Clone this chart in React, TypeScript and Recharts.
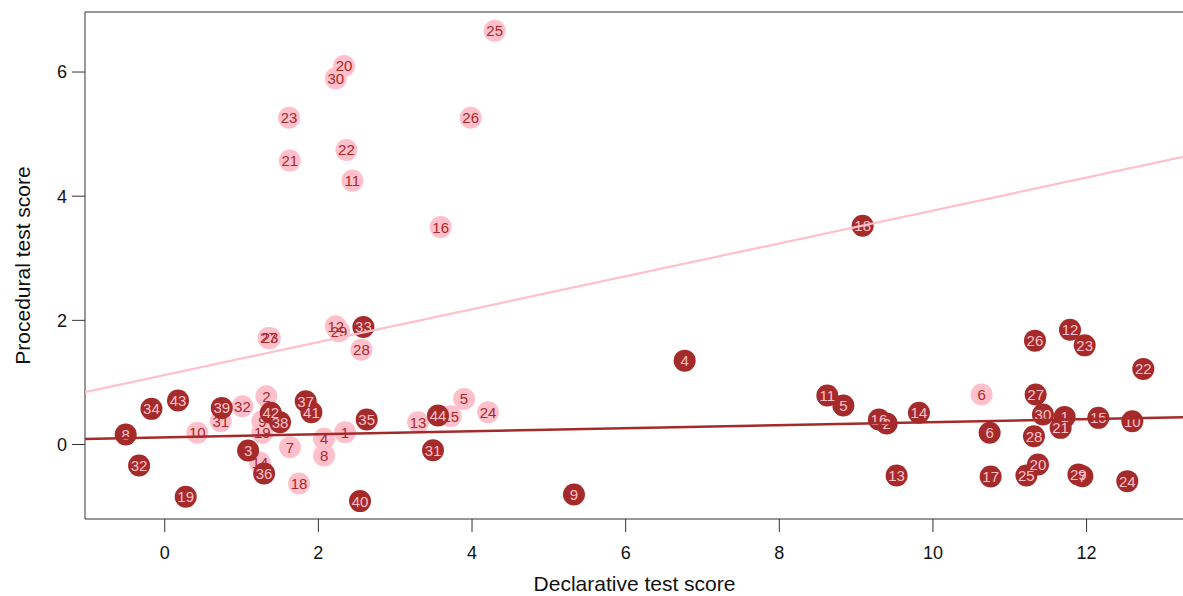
import React from 'react'
import { ScatterChart, Scatter, XAxis, YAxis, ReferenceArea, Label } from 'recharts'

// pink group (drawn first)
const pinkIds = [1, 2, 4, 5, 6, 7, 8, 9, 10, 11, 12, 29, 13, 14, 15, 16, 18, 19, 20, 21, 22, 23, 23, 27, 24, 25, 26, 28, 30, 31, 32]
const pinkX = [2.347, 1.323, 2.074, 3.896, 10.634, 1.631, 2.074, 1.27, 0.425, 2.443, 2.226, 2.269, 3.297, 1.24, 3.723, 3.592, 1.748, 1.27, 2.334, 1.627, 2.365, 1.618, 1.37, 1.35, 4.208, 4.295, 3.983, 2.56, 2.226, 0.729, 1.011]
const pinkY = [0.198, 0.777, 0.091, 0.735, 0.804, -0.043, -0.177, 0.375, 0.188, 4.251, 1.903, 1.823, 0.359, -0.295, 0.455, 3.502, -0.627, 0.188, 6.096, 4.573, 4.745, 5.265, 1.716, 1.716, 0.52, 6.664, 5.265, 1.528, 5.898, 0.375, 0.616]

// brown group
const brownIds = [1, 2, 3, 4, 5, 6, 7, 8, 9, 10, 11, 12, 13, 14, 15, 16, 17, 18, 19, 20, 21, 22, 23, 24, 25, 26, 27, 28, 29, 30, 31, 32, 33, 34, 35, 36, 37, 39, 40, 41, 42, 38, 43, 44]
const brownX = [11.714, 9.397, 1.085, 6.768, 8.834, 10.738, 11.945, -0.508, 5.327, 12.595, 8.625, 11.784, 9.527, 9.818, 12.153, 9.297, 10.751, 9.085, 0.273, 11.367, 11.662, 12.738, 11.975, 12.53, 11.216, 11.328, 11.337, 11.315, 11.893, 11.432, 3.492, -0.334, 2.586, -0.173, 2.629, 1.293, 1.835, 0.742, 2.542, 1.909, 1.38, 1.501, 0.173, 3.557]
const brownY = [0.445, 0.338, -0.097, 1.351, 0.627, 0.188, -0.51, 0.161, -0.804, 0.375, 0.788, 1.85, -0.499, 0.51, 0.429, 0.402, -0.515, 3.523, -0.842, -0.322, 0.268, 1.218, 1.597, -0.59, -0.499, 1.673, 0.804, 0.134, -0.483, 0.483, -0.091, -0.338, 1.893, 0.574, 0.402, -0.466, 0.697, 0.59, -0.912, 0.52, 0.51, 0.359, 0.708, 0.466]

// fitted lines: [intercept, slope]
const pinkFit = [1.12, 0.265]
const brownFit = [0.115, 0.0245]

const xTicks = [0, 2, 4, 6, 8, 10, 12]
const yTicks = [0, 2, 4, 6]
const xDomain: [number, number] = [-1.038, 13.268]
const yDomain: [number, number] = [-1.2, 6.967]

const PINK = '#FFC0CB'
const BROWN = '#A52A2A'
const FONT = '"Liberation Sans", Arial, Helvetica, sans-serif'

const toPoints = (ids: number[], xs: number[], ys: number[]) =>
  ids.map((id, i) => ({ id, x: xs[i], y: ys[i] }))

const fitLine = (fit: number[]) =>
  xDomain.map((x) => ({ x, y: fit[0] + fit[1] * x }))

const pinkData = toPoints(pinkIds, pinkX, pinkY)
const brownData = toPoints(brownIds, brownX, brownY)

const dot = (fill: string) => (p: any) => <circle cx={p.cx} cy={p.cy} r={11} fill={fill} />

const tag = (color: string) => (p: any) => (
  <text x={p.cx} y={p.cy} dy="0.36em" textAnchor="middle" fontSize={15} fill={color} fontFamily={FONT}>
    {p.payload.id}
  </text>
)

const nothing = () => <g />

const YTitle = (props: any) => {
  const { viewBox } = props
  const cx = viewBox.x + 22
  const cy = viewBox.y + viewBox.height / 2
  return (
    <text x={cx} y={cy} transform={`rotate(-90 ${cx} ${cy})`} textAnchor="middle" dominantBaseline="central" fontSize={21} fill="#111" fontFamily={FONT}>
      Procedural test score
    </text>
  )
}

const tickStyle = { fill: '#111', fontSize: 18, fontFamily: FONT }

export default function App() {
  return (
    <div style={{ position: 'absolute', left: 0, top: 0, width: 1183, height: 596, overflow: 'hidden', background: '#fff' }}>
      <ScatterChart width={1184} height={596} margin={{ top: 12, right: 0, bottom: 0, left: 0 }}>
        <XAxis
          type="number"
          dataKey="x"
          domain={xDomain}
          ticks={xTicks}
          allowDataOverflow
          height={77}
          axisLine={false}
          tickSize={13}
          tickMargin={14}
          tickLine={{ stroke: '#333' }}
          tick={tickStyle}
        >
          <Label value="Declarative test score" position="insideBottom" offset={5} fontSize={21} fill="#111" fontFamily={FONT} />
        </XAxis>
        <YAxis
          type="number"
          dataKey="y"
          domain={yDomain}
          ticks={yTicks}
          allowDataOverflow
          width={85}
          axisLine={false}
          tickSize={13}
          tickMargin={5}
          tickLine={{ stroke: '#333' }}
          tick={tickStyle}
        >
          <Label content={YTitle} />
        </YAxis>
        <ReferenceArea x1={xDomain[0]} x2={xDomain[1]} y1={yDomain[0]} y2={yDomain[1]} fill="none" stroke="#333" strokeWidth={1} />
        <Scatter data={pinkData} shape={dot(PINK)} isAnimationActive={false} />
        <Scatter data={pinkData} shape={tag(BROWN)} isAnimationActive={false} />
        <Scatter data={brownData} shape={dot(BROWN)} isAnimationActive={false} />
        <Scatter data={brownData} shape={tag(PINK)} isAnimationActive={false} />
        <Scatter data={fitLine(pinkFit)} line={{ stroke: PINK, strokeWidth: 2.2 }} shape={nothing} isAnimationActive={false} />
        <Scatter data={fitLine(brownFit)} line={{ stroke: BROWN, strokeWidth: 2.5 }} shape={nothing} isAnimationActive={false} />
      </ScatterChart>
    </div>
  )
}
